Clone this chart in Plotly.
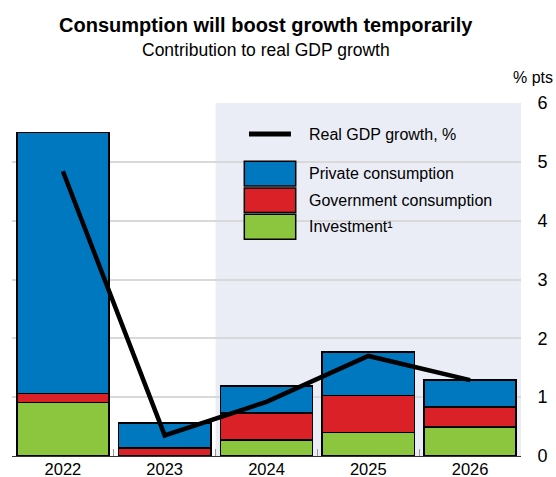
import plotly.graph_objects as go

years = ['2022', '2023', '2024', '2025', '2026']
investment = [0.91, 0.0, 0.27, 0.40, 0.49]
government = [0.15, 0.14, 0.46, 0.63, 0.34]
private = [4.44, 0.42, 0.46, 0.74, 0.46]
gdp_growth = [4.84, 0.35, 0.92, 1.70, 1.29]
y_ticks = [0, 1, 2, 3, 4, 5, 6]

FONT = 'Arial, Liberation Sans, sans-serif'
BLUE = '#0078BF'
RED = '#DA2128'
GREEN = '#8CC63F'
SHADE = '#EAEDF6'

fig = go.Figure()
for name, vals, col in [('Investment¹', investment, GREEN),
                        ('Government consumption', government, RED),
                        ('Private consumption', private, BLUE)]:
    fig.add_trace(go.Bar(x=years, y=vals, name=name, marker_color=col,
                         marker_line=dict(color='black', width=1.5), showlegend=False))

fig.add_trace(go.Scatter(x=years, y=gdp_growth, mode='lines', name='Real GDP growth, %',
                         line=dict(color='black', width=4.5), showlegend=False))

# projection period shading
fig.add_shape(type='rect', xref='x', yref='paper', x0=1.5, x1=4.5, y0=0, y1=1,
              fillcolor=SHADE, line_width=0, layer='below')

# hand made legend (big swatches like the original)
fig.add_shape(type='line', xref='paper', yref='paper', x0=0.4656, x1=0.548, y0=0.912, y1=0.912,
              line=dict(color='black', width=5))
boxes = [(BLUE, 0.7647, 0.8348), (RED, 0.690, 0.759), (GREEN, 0.6137, 0.6845)]
for col, y0, y1 in boxes:
    fig.add_shape(type='rect', xref='paper', yref='paper', x0=0.4564, x1=0.5574, y0=y0, y1=y1,
                  fillcolor=col, line=dict(color='black', width=1.5))
legend_text = [('Real GDP growth, %', 0.912), ('Private consumption', 0.7996),
               ('Government consumption', 0.7245), ('Investment¹', 0.649)]
for txt, yy in legend_text:
    fig.add_annotation(text=txt, xref='paper', yref='paper', x=0.5805, y=yy, xanchor='left',
                       yanchor='middle', showarrow=False, font=dict(size=16, color='black'))

fig.add_annotation(text='<b>Consumption will boost growth temporarily</b>', xref='paper', yref='paper',
                   x=0.499, y=1.222, xanchor='center', yanchor='middle', showarrow=False,
                   font=dict(size=20, color='black'))
fig.add_annotation(text='Contribution to real GDP growth', xref='paper', yref='paper',
                   x=0.499, y=1.150, xanchor='center', yanchor='middle', showarrow=False,
                   font=dict(size=17.5, color='black'))
fig.add_annotation(text='% pts', xref='paper', yref='paper', x=1.066, y=1.073, xanchor='right',
                   yanchor='middle', showarrow=False, font=dict(size=16, color='black'))

fig.update_layout(
    width=556, height=477,
    margin=dict(l=12, r=35, t=103, b=21, pad=0),
    barmode='stack', bargap=0.094,
    plot_bgcolor='white', paper_bgcolor='white',
    font=dict(family=FONT, color='black'),
)
fig.update_xaxes(type='category', tickson='boundaries', ticks='inside', ticklen=7, tickcolor='#999999',
                 showline=True, linecolor='#333333', linewidth=1, showgrid=False, automargin=False,
                 tickfont=dict(size=16.5), ticklabelstandoff=-2, range=[-0.5, 4.5])
fig.update_yaxes(side='right', range=[0, 6], tickvals=y_ticks, showgrid=True, gridcolor='#D9D9D9',
                 gridwidth=1.5, zeroline=False, ticks='outside', ticklen=12, tickcolor='rgba(0,0,0,0)',
                 tickfont=dict(size=18), automargin=False)

# drop the default 8px page margin so the figure fills the window
fig.write_html('out.html', config={'displayModeBar': False},
               post_script="document.body.style.margin='0';document.body.style.overflow='hidden';")
